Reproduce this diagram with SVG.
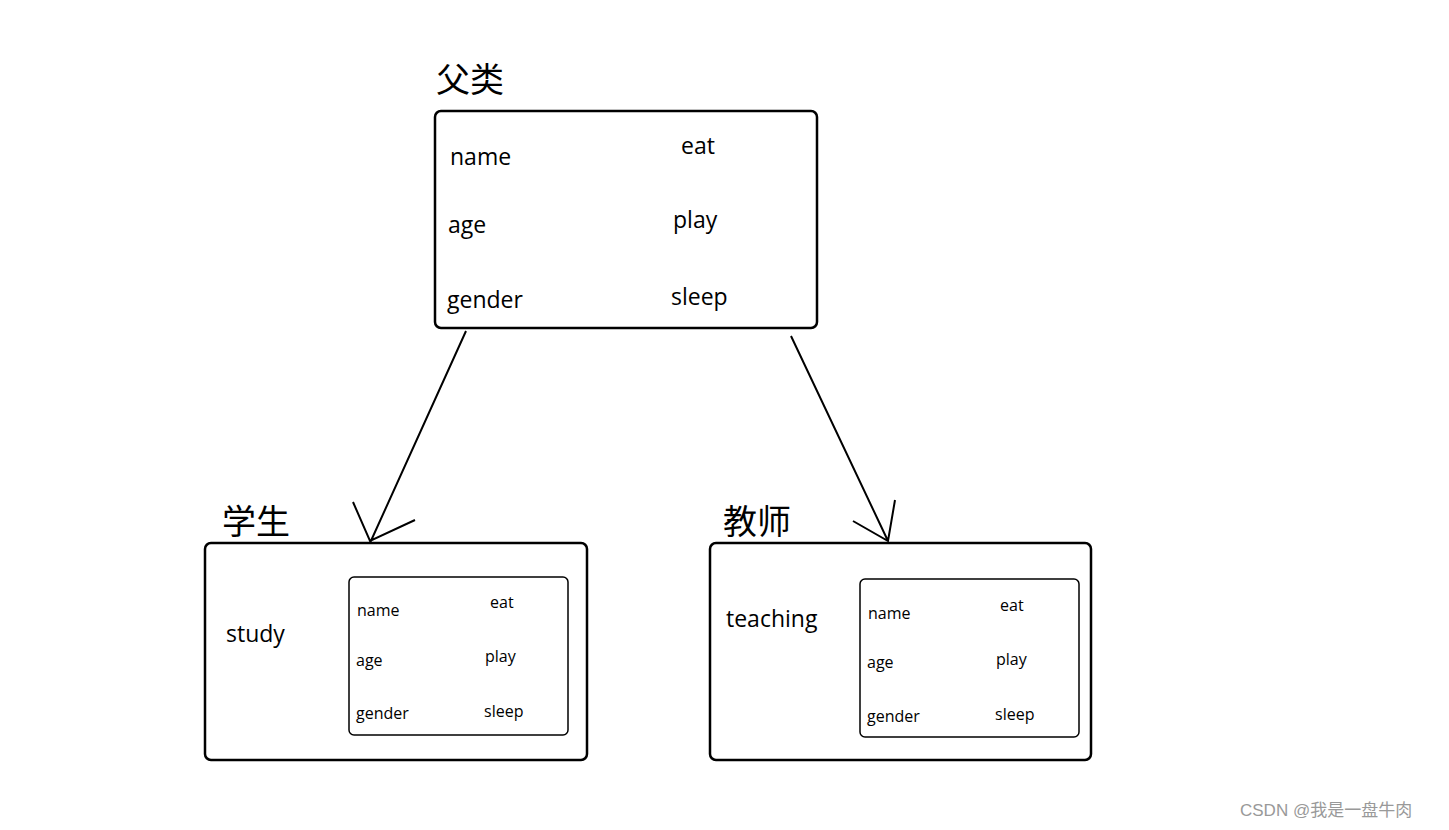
<svg xmlns="http://www.w3.org/2000/svg" width="1449" height="830" viewBox="0 0 1449 830">
<style>
.box{fill:#fff;stroke:#000;stroke-width:2.5}
.ib{fill:#fff;stroke:#000;stroke-width:1.5}
.t{font-family:"Open Sans","Noto Sans",sans-serif;fill:#000}
.big{font-size:23px}
.sm{font-size:16px}
.cj{font-family:"Noto Sans CJK SC",sans-serif;font-size:34px;fill:#000}
.c{stroke:#000;stroke-width:2;fill:none}
</style>
<rect width="1449" height="830" fill="#fff"/>
<g id="parent">
<text x="436" y="92" class="cj">父类</text>
<rect x="435" y="111" width="382" height="217" rx="6" class="box"/>
<text x="450" y="165" class="t big">name</text>
<text x="448" y="233" class="t big">age</text>
<text x="447" y="308" class="t big">gender</text>
<text x="681" y="154" class="t big">eat</text>
<text x="673" y="228" class="t big">play</text>
<text x="671" y="305" class="t big">sleep</text>
</g>
<g id="student">
<text x="222" y="534" class="cj">学生</text>
<rect x="205" y="543" width="382" height="217" rx="6" class="box"/>
<text x="226" y="642" class="t big">study</text>
<rect x="349" y="577" width="219" height="158" rx="5" class="ib"/>
<text x="357" y="616" class="t sm">name</text>
<text x="356" y="666" class="t sm">age</text>
<text x="356" y="719" class="t sm">gender</text>
<text x="490" y="608" class="t sm">eat</text>
<text x="485" y="662" class="t sm">play</text>
<text x="484" y="717" class="t sm">sleep</text>
</g>
<g id="teacher">
<text x="723" y="534" class="cj">教师</text>
<rect x="710" y="543" width="381" height="217" rx="6" class="box"/>
<text x="726" y="627" class="t big">teaching</text>
<rect x="860" y="579" width="219" height="158" rx="5" class="ib"/>
<text x="868" y="619" class="t sm">name</text>
<text x="867" y="668" class="t sm">age</text>
<text x="867" y="722" class="t sm">gender</text>
<text x="1000" y="611" class="t sm">eat</text>
<text x="996" y="665" class="t sm">play</text>
<text x="995" y="720" class="t sm">sleep</text>
</g>
<g id="connectors">
<path d="M466 331 L370 543 M353 502 L370 541 L415 520" class="c"/>
<path d="M791 336 L888 541 M853 521 L888 541 L895 500" class="c"/>
</g>
<text x="1240" y="816" font-family="'Liberation Sans','Noto Sans CJK SC',sans-serif" font-size="17" fill="#999">CSDN @我是一盘牛肉</text>
</svg>
